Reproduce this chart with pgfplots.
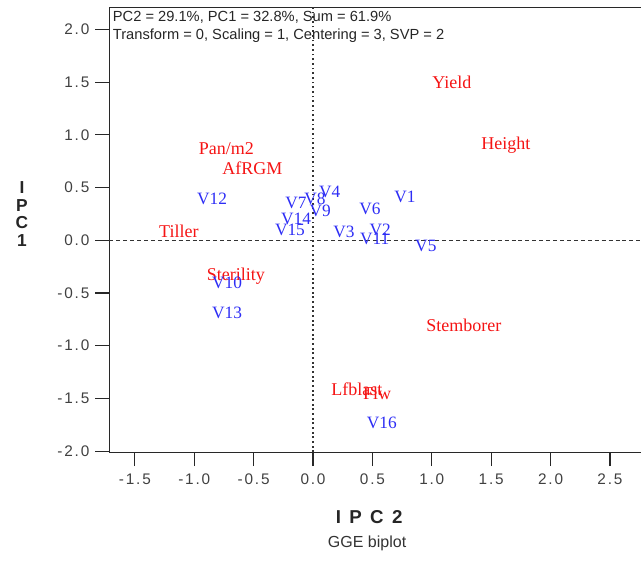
\documentclass[border=0pt]{standalone}
\usepackage{pgfplots}
\pgfplotsset{compat=1.18}
\usepackage{fontspec}
\setmainfont{Liberation Serif}
\newfontfamily\sans{Liberation Sans}
\newfontfamily\ticksans[LetterSpace=12]{Liberation Sans}
\definecolor{genblue}{RGB}{45,45,245}
\definecolor{traitred}{RGB}{245,20,20}
\definecolor{framegray}{RGB}{40,40,40}

% genotype scores (PC2, PC1)
\pgfplotstableread{
x y label
0.775 0.41 V1
0.565 0.097 V2
0.26 0.078 V3
0.14 0.457 V4
0.95 -0.055 V5
0.48 0.296 V6
-0.143 0.353 V7
0.017 0.39 V8
0.06 0.277 V9
-0.724 -0.406 V10
0.52 0.01 V11
-0.85 0.39 V12
-0.724 -0.69 V13
-0.143 0.20 V14
-0.194 0.097 V15
0.58 -1.73 V16
}\genotypes

% trait scores
\pgfplotstableread{
x y label
1.17 1.50 Yield
1.625 0.90 Height
-0.73 0.865 Pan/m2
-0.51 0.685 AfRGM
-1.13 0.087 Tiller
-0.65 -0.34 Sterility
1.27 -0.81 Stemborer
0.37 -1.41 Lfblast
0.54 -1.45 Flw
}\traits

\begin{document}
\begin{tikzpicture}
\useasboundingbox (-82pt,-81.75pt) rectangle (398.7pt,339.1pt);
\begin{axis}[
    scale only axis,
    width=402.1pt, height=333.6pt,
    xmin=-1.715, xmax=2.80,
    ymin=-2.01, ymax=2.21,
    xtick={-1.5,-1,...,2.5},
    ytick={-2,-1.5,...,2},
    tick align=outside,
    major tick length=10.5pt,
    tick style={framegray, line width=0.9pt},
    xtick pos=bottom, ytick pos=left,
    axis line style={framegray, line width=0.9pt},
    /pgf/number format/.cd, fixed, fixed zerofill, precision=1, assume math mode=true,
    /pgfplots/.cd,
    tick label style={font=\ticksans\fontsize{11.5}{13}\selectfont, text=black!75},
    xticklabel style={yshift=-2pt},
    yticklabel style={xshift=-1pt},
    xlabel={I\hspace{0.45em}P\hspace{0.45em}C\hspace{0.45em}2},
    xlabel style={font=\sans\bfseries\fontsize{14}{16}\selectfont, text=black!85,
        at={(axis description cs:0.4845,-0.146)}, anchor=center},
    ylabel={I\\P\\C\\1},
    ylabel style={font=\sans\bfseries\fontsize{13}{13.2}\selectfont, text=black!85, align=center,
        rotate=-90, at={(axis description cs:-0.163,0.535)}, anchor=center},
    clip=false,
]
\addplot[black!80, line width=1.3pt, dash pattern=on 1.3pt off 2.2pt] coordinates {(0,-2.01) (0,2.21)};
\addplot[black!80, line width=0.8pt, dash pattern=on 3pt off 2.2pt] coordinates {(-1.715,0) (2.762,0)};
\addplot[only marks, mark=none, point meta=explicit symbolic, nodes near coords,
    nodes near coords style={anchor=center, text=traitred, font=\fontsize{13.5}{15}\selectfont}]
    table[meta=label] {\traits};
\addplot[only marks, mark=none, point meta=explicit symbolic, nodes near coords,
    nodes near coords style={anchor=center, text=genblue, font=\fontsize{13}{15}\selectfont}]
    table[meta=label] {\genotypes};
\node[anchor=north west, align=left, inner sep=0pt, font=\sans\fontsize{11}{13.5}\selectfont, text=black!85]
    at ([xshift=2.5pt, yshift=-2.5pt]rel axis cs:0,1)
    {PC2 = 29.1\%, PC1 = 32.8\%, Sum = 61.9\%\\Transform = 0, Scaling = 1, Centering = 3, SVP = 2};
\node[font=\sans\fontsize{12}{14}\selectfont, text=black!80]
    at (axis description cs:0.4807,-0.2046) {GGE biplot};
\end{axis}
\end{tikzpicture}
\end{document}
